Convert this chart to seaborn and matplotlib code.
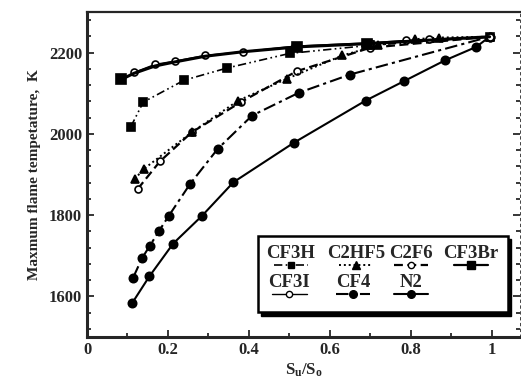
import matplotlib
matplotlib.use("Agg")
import matplotlib.pyplot as plt
import seaborn as sns
import numpy as np
from matplotlib.ticker import MultipleLocator, AutoMinorLocator
from matplotlib.patches import Rectangle
from matplotlib.lines import Line2D

# ---- data ----
x_N2 = [0.112, 0.154, 0.213, 0.284, 0.362, 0.511, 0.689, 0.784, 0.885, 0.962, 0.995]
y_N2 = [1584, 1649, 1730, 1798, 1881, 1978, 2082, 2130, 2181, 2214, 2239]

x_CF4 = [0.114, 0.136, 0.155, 0.178, 0.202, 0.255, 0.323, 0.408, 0.523, 0.650, 0.995]
y_CF4 = [1646, 1694, 1724, 1761, 1798, 1877, 1963, 2045, 2101, 2146, 2239]

x_CF3H = [0.108, 0.139, 0.240, 0.346, 0.501, 0.700, 0.995]
y_CF3H = [2017, 2078, 2132, 2162, 2198, 2218, 2239]

x_C2HF5 = [0.118, 0.141, 0.259, 0.374, 0.495, 0.631, 0.72, 0.81, 0.87, 0.995]
y_C2HF5 = [1889, 1914, 2004, 2082, 2136, 2193, 2218, 2233, 2237, 2239]

x_C2F6 = [0.125, 0.180, 0.259, 0.38, 0.518, 0.70, 0.995]
y_C2F6 = [1864, 1932, 2004, 2078, 2154, 2212, 2239]

x_CF3Br = [0.085, 0.116, 0.168, 0.217, 0.292, 0.385, 0.519, 0.693, 0.995]
y_CF3Br = [2134, 2149, 2167, 2177, 2191, 2202, 2214, 2222, 2239]
CF3Br_marked = [0, 6, 7]

x_CF3I = [0.116, 0.168, 0.217, 0.292, 0.385, 0.515, 0.70, 0.788, 0.846, 0.995]
y_CF3I = [2151, 2171, 2179, 2193, 2202, 2216, 2224, 2230, 2233, 2239]

names = ["CF3H", "C2HF5", "C2F6", "CF3Br", "CF3I", "CF4", "N2"]
series = {
    "CF3H": (x_CF3H, y_CF3H), "C2HF5": (x_C2HF5, y_C2HF5), "C2F6": (x_C2F6, y_C2F6),
    "CF3Br": (x_CF3Br, y_CF3Br), "CF3I": (x_CF3I, y_CF3I), "CF4": (x_CF4, y_CF4),
    "N2": (x_N2, y_N2),
}
draw_order = ["N2", "CF4", "C2F6", "C2HF5", "CF3H", "CF3I", "CF3Br"]

x_ticks = [0, 0.2, 0.4, 0.6, 0.8, 1]
x_ticklabels = ["0", "0.2", "0.4", "0.6", "0.8", "1"]
y_ticks = [1600, 1800, 2000, 2200]

styles = {
    "CF3H":  dict(ls=(0, (5, 2, 1, 2, 1, 2)), lw=1.2, marker="s", mfc="black", ms=5.5),
    "C2HF5": dict(ls=(0, (1, 1.5)), lw=1.4, marker="^", mfc="black", ms=6),
    "C2F6":  dict(ls=(0, (4, 2)), lw=1.6, marker="o", mfc="white", ms=5),
    "CF3Br": dict(ls="-", lw=2.2, marker="s", mfc="black", ms=6.5),
    "CF3I":  dict(ls="-", lw=1.0, marker="o", mfc="white", ms=5),
    "CF4":   dict(ls=(0, (6, 2, 1.5, 2)), lw=1.5, marker="o", mfc="black", ms=6),
    "N2":    dict(ls="-", lw=1.5, marker="o", mfc="black", ms=6),
}

sns.set_theme(style="ticks")
plt.rcParams["font.family"] = ["Liberation Serif", "DejaVu Serif"]
plt.rcParams["mathtext.fontset"] = "custom"
plt.rcParams["mathtext.rm"] = "Liberation Serif:bold"
plt.rcParams["mathtext.it"] = "Liberation Serif:bold"

fig = plt.figure(figsize=(5.21, 3.86), dpi=100)
ax = fig.add_axes([0.167, 0.127, 0.831, 0.842])

for n in draw_order:
    x, y = series[n]
    st = styles[n]
    extra = {}
    if n == "CF3Br":
        extra["markevery"] = CF3Br_marked
    sns.lineplot(x=x, y=y, ax=ax, color="black", linestyle=st["ls"], linewidth=st["lw"],
                 marker=st["marker"], markersize=st["ms"], markerfacecolor=st["mfc"],
                 markeredgecolor="black", markeredgewidth=1.2, sort=False,
                 estimator=None, legend=False, **extra)

ax.set_xlim(0, 1.07)
ax.set_ylim(1500, 2300)
ax.set_xticks(x_ticks)
ax.set_xticklabels(x_ticklabels)
ax.set_yticks(y_ticks)
ax.xaxis.set_minor_locator(MultipleLocator(0.1))
ax.yaxis.set_minor_locator(AutoMinorLocator(5))
ax.tick_params(which="both", direction="in", top=False, right=True, width=1.3)
ax.tick_params(which="major", length=5, labelsize=12)
ax.tick_params(which="minor", length=3)
for lab in ax.get_xticklabels() + ax.get_yticklabels():
    lab.set_fontweight("bold")

for s in ["left", "bottom"]:
    ax.spines[s].set_linewidth(2.2)
ax.spines["top"].set_linewidth(1.6)
ax.spines["right"].set_linewidth(0.6)
ax.spines["right"].set_linestyle((0, (3, 4)))
ax.spines["top"].set_visible(True)
ax.spines["right"].set_visible(True)

ax.set_xlabel(r"S$_\mathregular{u}$/S$_\mathregular{o}$", fontsize=12, fontweight="bold", labelpad=3)
ax.set_ylabel("Maxmum flame tempetature,  K", fontsize=11, fontweight="bold", labelpad=6)

# ---- custom legend: labels above handles ----
T = ax.transAxes
shadow = Rectangle((0.402, 0.066), 0.577, 0.234, transform=T, facecolor="black",
                   edgecolor="black", zorder=5)
box = Rectangle((0.395, 0.077), 0.577, 0.234, transform=T, facecolor="white",
                edgecolor="black", linewidth=1.8, zorder=6)
ax.add_patch(shadow)
ax.add_patch(box)
leg_pos = {
    "CF3H": (0.471, 0.258), "C2HF5": (0.621, 0.258), "C2F6": (0.748, 0.258),
    "CF3Br": (0.887, 0.258), "CF3I": (0.467, 0.169), "CF4": (0.614, 0.169),
    "N2": (0.748, 0.169),
}
for n in names:
    lx, ly = leg_pos[n]
    ax.text(lx, ly, n, transform=T, ha="center", va="center", fontsize=13.5,
            fontweight="bold", zorder=7)
    st = styles[n]
    hy = ly - 0.038
    ax.add_line(Line2D([lx - 0.04, lx + 0.04], [hy, hy], transform=T, color="black",
                       linestyle=st["ls"], linewidth=min(st["lw"], 1.6), zorder=7))
    ax.add_line(Line2D([lx], [hy], transform=T, color="black", marker=st["marker"],
                       markersize=st["ms"] - 0.5, markerfacecolor=st["mfc"],
                       markeredgecolor="black", linestyle="none", zorder=8))

fig.savefig("out.png", dpi=100)
